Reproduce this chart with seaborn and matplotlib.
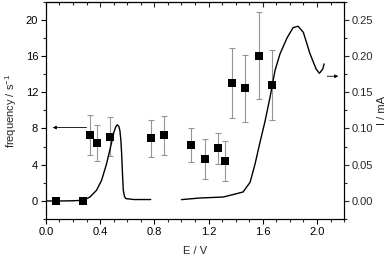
import matplotlib
matplotlib.use('agg')
import matplotlib.pyplot as plt
from matplotlib.ticker import MultipleLocator
import numpy as np
import pandas as pd
import seaborn as sns

# frequency data (left axis)
E_pts = [0.074, 0.273, 0.325, 0.376, 0.472, 0.775, 0.873, 1.072, 1.171, 1.270, 1.323, 1.370, 1.469, 1.570, 1.668]
freq = [0.0, 0.0, 7.27, 6.39, 7.09, 6.90, 7.24, 6.20, 4.59, 5.80, 4.41, 13.0, 12.41, 16.0, 12.82]
freq_err = [0.0, 0.0, 2.2, 1.95, 2.15, 2.0, 2.15, 1.85, 2.2, 1.7, 2.2, 3.85, 3.7, 4.8, 3.85]

# current curve (right axis), two segments
E_cv1 = [0.0, 0.1, 0.2, 0.28, 0.325, 0.374, 0.411, 0.448, 0.477, 0.502, 0.515, 0.526, 0.538, 0.546, 0.553, 0.559, 0.565,
         0.571, 0.58, 0.59, 0.65, 0.773]
I_cv1 = [0.0, 0.0, 0.0003, 0.001, 0.0055, 0.0148, 0.0285, 0.0515, 0.0744, 0.095, 0.102, 0.105, 0.103, 0.097, 0.084,
         0.065, 0.038, 0.0148, 0.006, 0.0033, 0.002, 0.002]
E_cv2 = [1.0, 1.137, 1.309, 1.407, 1.454, 1.506, 1.542, 1.579, 1.616, 1.653, 1.690, 1.727, 1.779, 1.823, 1.860,
         1.899, 1.948, 1.993, 2.017, 2.042, 2.052]
I_cv2 = [0.0019, 0.0041, 0.0055, 0.0101, 0.0124, 0.0257, 0.0505, 0.0808, 0.1097, 0.1428, 0.180, 0.203, 0.225, 0.239, 0.241,
         0.2325, 0.203, 0.182, 0.176, 0.182, 0.189]

sns.set_style('ticks')
plt.rcParams['font.family'] = ['Liberation Sans', 'DejaVu Sans']
plt.rcParams['mathtext.fontset'] = 'custom'
plt.rcParams['mathtext.rm'] = 'Liberation Sans'
plt.rcParams['mathtext.it'] = 'Liberation Sans'

fs = 8
fig = plt.figure(figsize=(3.92, 2.59), dpi=100)
ax = fig.add_axes([0.117, 0.154, 0.761, 0.840])
ax2 = ax.twinx()

pts = pd.DataFrame({'E': E_pts, 'f': freq})
ax.errorbar(E_pts, freq, yerr=freq_err, fmt='none', ecolor='#959595', elinewidth=0.8, capsize=2, capthick=0.8, zorder=2)
sns.scatterplot(data=pts, x='E', y='f', marker='s', s=30, color='black', edgecolor='black', linewidth=0, ax=ax, zorder=3)

seg1 = pd.DataFrame({'E': E_cv1, 'I': I_cv1})
seg2 = pd.DataFrame({'E': E_cv2, 'I': I_cv2})
sns.lineplot(data=seg1, x='E', y='I', color='black', lw=1.0, ax=ax2, sort=False)
sns.lineplot(data=seg2, x='E', y='I', color='black', lw=1.0, ax=ax2, sort=False)

ax.set_xlim(0, 2.2)
ax.set_ylim(-2, 22)
ax2.set_ylim(-0.025, 0.275)

ax.xaxis.set_major_locator(MultipleLocator(0.4))
ax.xaxis.set_minor_locator(MultipleLocator(0.1))
ax.yaxis.set_major_locator(MultipleLocator(4))
ax.yaxis.set_minor_locator(MultipleLocator(2))
ax2.yaxis.set_major_locator(MultipleLocator(0.05))
ax2.yaxis.set_minor_locator(MultipleLocator(0.025))
ax.xaxis.set_major_formatter(matplotlib.ticker.FormatStrFormatter('%.1f'))
ax2.yaxis.set_major_formatter(matplotlib.ticker.FormatStrFormatter('%.2f'))

for a in (ax, ax2):
    for sp in a.spines.values():
        sp.set_visible(True)
        sp.set_linewidth(0.8)
        sp.set_color('black')

ax.tick_params(axis='both', which='major', direction='out', length=3.5, width=0.8, labelsize=fs, pad=2, colors='black')
ax.tick_params(axis='both', which='minor', direction='out', length=2, width=0.8)
ax.tick_params(axis='y', right=False)
ax2.tick_params(axis='y', which='major', direction='out', length=3.5, width=0.8, labelsize=fs, pad=2)
ax2.tick_params(axis='y', which='minor', direction='out', length=2, width=0.8)

top = ax.secondary_xaxis('top')
top.xaxis.set_major_locator(MultipleLocator(0.4))
top.xaxis.set_minor_locator(MultipleLocator(0.1))
top.tick_params(which='major', direction='in', length=3.5, width=0.8, labeltop=False)
top.tick_params(which='minor', direction='in', length=2, width=0.8)
top.spines['top'].set_linewidth(0.8)

ax.set_xlabel('E / V', fontsize=fs, labelpad=7)
ax.set_ylabel('frequency / s$^{-1}$', fontsize=fs, labelpad=5)
ax2.set_ylabel('I / mA', fontsize=fs, labelpad=3, rotation=90)

# arrows pointing to the axes
ax.annotate('', xy=(0.03, 8.1), xytext=(0.32, 8.1),
            arrowprops=dict(arrowstyle='-|>', color='black', lw=0.6, mutation_scale=5))
ax2.annotate('', xy=(2.177, 0.172), xytext=(2.054, 0.172),
             arrowprops=dict(arrowstyle='-|>', color='black', lw=0.6, mutation_scale=5))

fig.savefig('out.png', dpi=100)
